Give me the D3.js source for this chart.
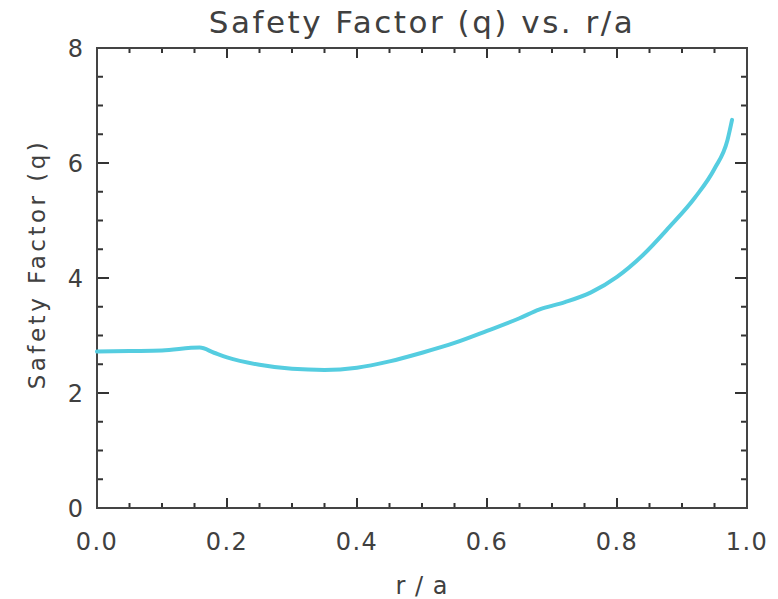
<!DOCTYPE html>
<meta charset="utf-8">
<style type="text/css">
    body { margin: 0; background: #fff; }
    /* IDL-style thin, wide lettering */
    text { font-family: "DejaVu Sans", sans-serif; fill: #404040; }
    .frame { fill: none; stroke: #444; stroke-width: 2; }
    .tick { stroke: #333; stroke-width: 2; }
    .line { fill: none; stroke: #55cde0; stroke-width: 4; stroke-linejoin: round; stroke-linecap: round; }
</style>
<body>
</body>
<script src="https://cdn.jsdelivr.net/npm/d3@7"></script>
<script>

    // normalised radius and safety factor
    var rOverA = [0, 0.05, 0.10, 0.158, 0.18, 0.20, 0.25, 0.30, 0.35, 0.40, 0.45, 0.50, 0.55,
                  0.60, 0.65, 0.68, 0.72, 0.76, 0.80, 0.84, 0.88, 0.92, 0.95, 0.97, 0.977];
    var qValues = [2.72, 2.73, 2.74, 2.79, 2.70, 2.62, 2.49, 2.42, 2.40, 2.44, 2.55, 2.70, 2.87,
                   3.08, 3.30, 3.45, 3.58, 3.75, 4.02, 4.40, 4.88, 5.40, 5.90, 6.40, 6.75];

    var xTicks = [0, 0.2, 0.4, 0.6, 0.8, 1.0];
    var yTicks = [0, 2, 4, 6, 8];

    var margin = {top: 48, right: 31, bottom: 91, left: 97}
        , width = 778 - margin.left - margin.right
        , height = 599 - margin.top - margin.bottom;

    var xScale = d3.scaleLinear().domain([0, 1]).range([0, width]);
    var yScale = d3.scaleLinear().domain([0, 8]).range([height, 0]);

    var svg = d3.select("body").append("svg")
        .attr("width", 778)
        .attr("height", 599)
        .append("g")
        .attr("transform", "translate(" + margin.left + "," + margin.top + ")");

    // minor ticks every 0.05 in x, every 0.5 in y; majors longer
    var xMinor = d3.range(0, 1.0001, 0.05);
    var yMinor = d3.range(0, 8.0001, 0.5);
    function isMajor(v, step) { return Math.abs(v / step - Math.round(v / step)) < 1e-6; }

    var ticks = svg.append("g");
    xMinor.forEach(function(v) {
        var len = isMajor(v, 0.2) ? 10 : 5;
        ticks.append("line").attr("class", "tick")
            .attr("x1", xScale(v)).attr("x2", xScale(v))
            .attr("y1", height).attr("y2", height - len);
        ticks.append("line").attr("class", "tick")
            .attr("x1", xScale(v)).attr("x2", xScale(v))
            .attr("y1", 0).attr("y2", len);
    });
    yMinor.forEach(function(v) {
        var len = isMajor(v, 2) ? 12 : 6;
        ticks.append("line").attr("class", "tick")
            .attr("x1", 0).attr("x2", len)
            .attr("y1", yScale(v)).attr("y2", yScale(v));
        ticks.append("line").attr("class", "tick")
            .attr("x1", width).attr("x2", width - len)
            .attr("y1", yScale(v)).attr("y2", yScale(v));
    });

    svg.append("rect").attr("class", "frame")
        .attr("width", width).attr("height", height);

    // tick labels
    svg.selectAll(".xlabel")
        .data(xTicks)
        .enter().append("text")
        .attr("class", "xlabel")
        .attr("x", function(d) { return xScale(d); })
        .attr("y", height + 42)
        .attr("text-anchor", "middle")
        .style("font-size", "24px")
        .style("letter-spacing", "1.5px")
        .text(function(d) { return d3.format(".1f")(d); });

    svg.selectAll(".ylabel")
        .data(yTicks)
        .enter().append("text")
        .attr("class", "ylabel")
        .attr("x", -14)
        .attr("y", function(d) { return yScale(d) + 9; })
        .attr("text-anchor", "end")
        .style("font-size", "24px")
        .text(function(d) { return d; });

    // the q profile
    var line = d3.line()
        .x(function(d) { return xScale(d[0]); })
        .y(function(d) { return yScale(d[1]); })
        .curve(d3.curveMonotoneX);

    svg.append("path")
        .datum(d3.zip(rOverA, qValues))
        .attr("class", "line")
        .attr("d", line);

    // titles
    svg.append("text")
        .attr("x", width / 2)
        .attr("y", -15)
        .attr("text-anchor", "middle")
        .style("font-size", "31px")
        .style("letter-spacing", "2.5px")
        .text("Safety Factor (q) vs. r/a");

    svg.append("text")
        .attr("x", width / 2)
        .attr("y", height + 86)
        .attr("text-anchor", "middle")
        .style("font-size", "24px")
        .style("letter-spacing", "1px")
        .text("r / a");

    svg.append("text")
        .attr("transform", "translate(-52," + (height / 2 - 14) + ") rotate(-90)")
        .attr("text-anchor", "middle")
        .style("font-size", "23px")
        .style("letter-spacing", "3.5px")
        .text("Safety Factor (q)");

</script>
